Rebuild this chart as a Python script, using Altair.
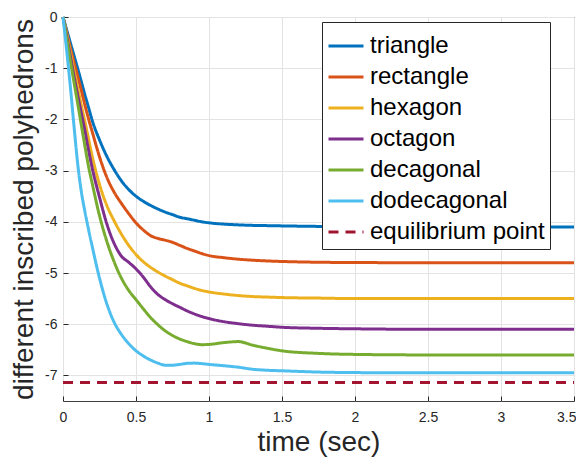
import altair as alt
import pandas as pd

time = [0, 0.025, 0.05, 0.075, 0.1, 0.125, 0.15, 0.175, 0.2, 0.25, 0.3, 0.35, 0.4, 0.45,
        0.5, 0.55, 0.6, 0.65, 0.7, 0.75, 0.8, 0.85, 0.9, 0.95, 1.0, 1.1, 1.2, 1.3, 1.4,
        1.5, 1.75, 2.0, 2.5, 3.0, 3.5]

triangle = [0, -0.25, -0.5, -0.75, -1.0, -1.26, -1.52, -1.77, -2.02, -2.4, -2.72, -2.98,
            -3.2, -3.37, -3.5, -3.6, -3.68, -3.75, -3.81, -3.86, -3.91, -3.94, -3.97, -4.0,
            -4.02, -4.045, -4.06, -4.07, -4.075, -4.08, -4.09, -4.095, -4.1, -4.1, -4.1]
rectangle = [0, -0.3, -0.6, -0.88, -1.15, -1.43, -1.72, -1.99, -2.24, -2.73, -3.13, -3.42,
             -3.64, -3.84, -4.02, -4.16, -4.27, -4.325, -4.36, -4.4, -4.46, -4.52, -4.57,
             -4.62, -4.66, -4.7, -4.73, -4.75, -4.765, -4.775, -4.79, -4.795, -4.8, -4.8, -4.8]
hexagon = [0, -0.33, -0.68, -1.04, -1.38, -1.72, -2.04, -2.38, -2.72, -3.27, -3.68, -3.98,
           -4.24, -4.46, -4.64, -4.78, -4.89, -4.98, -5.06, -5.13, -5.2, -5.25, -5.3, -5.34,
           -5.37, -5.41, -5.44, -5.46, -5.47, -5.48, -5.49, -5.5, -5.5, -5.5, -5.5]
octagon = [0, -0.37, -0.76, -1.15, -1.52, -1.87, -2.22, -2.6, -2.95, -3.52, -4.04, -4.42,
           -4.67, -4.79, -4.92, -5.08, -5.27, -5.42, -5.52, -5.6, -5.67, -5.74, -5.8, -5.85,
           -5.89, -5.95, -5.99, -6.02, -6.04, -6.06, -6.08, -6.09, -6.1, -6.1, -6.1]
decagonal = [0, -0.42, -0.85, -1.27, -1.68, -2.1, -2.52, -2.92, -3.25, -3.88, -4.38, -4.78,
             -5.1, -5.34, -5.52, -5.7, -5.87, -6.01, -6.13, -6.22, -6.29, -6.34, -6.38, -6.4,
             -6.395, -6.36, -6.34, -6.41, -6.47, -6.52, -6.57, -6.59, -6.6, -6.6, -6.6]
dodecagonal = [0, -0.65, -1.35, -2.12, -2.85, -3.4, -3.8, -4.15, -4.48, -5.1, -5.6, -5.96,
               -6.2, -6.38, -6.52, -6.62, -6.7, -6.76, -6.8, -6.8, -6.785, -6.765, -6.76,
               -6.77, -6.785, -6.81, -6.84, -6.88, -6.9, -6.91, -6.935, -6.945, -6.95, -6.95, -6.95]
equilibrium = -7.14
equilibrium_time = [0, 3.5]

names = ["triangle", "rectangle", "hexagon", "octagon", "decagonal", "dodecagonal",
         "equilibrium point"]
colors = ["#0072BD", "#D95319", "#EDB120", "#7E2F8E", "#77AC30", "#4DBEEE", "#A2142F"]
x_ticks = [0, 0.5, 1, 1.5, 2, 2.5, 3, 3.5]
y_ticks = [-7, -6, -5, -4, -3, -2, -1, 0]

rows = []
for name, vals in zip(names[:6], [triangle, rectangle, hexagon, octagon, decagonal, dodecagonal]):
    for t, v in zip(time, vals):
        rows.append({"series": name, "t": t, "v": v})
for t in equilibrium_time:
    rows.append({"series": names[6], "t": t, "v": equilibrium})
df = pd.DataFrame(rows)

W, H = 511, 384
FONT = "Liberation Sans"
INK = "#262626"

legend = alt.Legend(
    title=None, orient="none", legendX=259, legendY=5,
    symbolType="stroke", symbolSize=1225, symbolStrokeWidth=3,
    labelFontSize=24, labelFont=FONT, labelColor="black", labelLimit=400,
    labelOffset=5, padding=5, rowPadding=-6,
    strokeColor=INK, fillColor="white",
)

xscale = alt.Scale(domain=[0, 3.5], nice=False, zero=False)
yscale = alt.Scale(domain=[-7.5, 0], nice=False, zero=False)

lines = alt.Chart(df).mark_line(interpolate="monotone").encode(
    x=alt.X("t:Q", scale=xscale,
            axis=alt.Axis(orient="bottom", values=x_ticks, title="time (sec)",
                          labelExpr="datum.value + ''", grid=True, ticks=False,
                          domain=False, labelFontSize=14, labelPadding=9,
                          labelFlush=False,
                          labelAlign={"condition": {"test": "datum.value == 3.5",
                                                    "value": "right"},
                                      "value": "center"},
                          labelOffset={"condition": {"test": "datum.value == 3.5",
                                                     "value": 2},
                                       "value": 0},
                          titleFontSize=28, titlePadding=4)),
    y=alt.Y("v:Q", scale=yscale,
            axis=alt.Axis(orient="left", values=y_ticks,
                          title="different inscribed polyhedrons",
                          labelExpr="datum.value + ''", grid=True, ticks=False,
                          domain=False, labelFontSize=14, labelPadding=6,
                          titleFontSize=28, titlePadding=6)),
    color=alt.Color("series:N", scale=alt.Scale(domain=names, range=colors), legend=legend),
    strokeDash=alt.StrokeDash("series:N",
                              scale=alt.Scale(domain=names, range=[[1, 0]] * 6 + [[10, 7]]),
                              legend=legend),
    strokeWidth=alt.StrokeWidth("series:N",
                                scale=alt.Scale(domain=names, range=[3] * 6 + [1.8]),
                                legend=None),
)

ticks_layer = alt.Chart(df).mark_point(opacity=0).encode(
    x=alt.X("t:Q", scale=xscale,
            axis=alt.Axis(orient="top", offset=-H, values=x_ticks, labels=False,
                          grid=False, domain=False, ticks=True, tickSize=5,
                          tickColor=INK, title=None)),
    y=alt.Y("v:Q", scale=yscale,
            axis=alt.Axis(orient="right", offset=-W, values=y_ticks, labels=False,
                          grid=False, domain=False, ticks=True, tickSize=5,
                          tickColor=INK, title=None)),
)

chart = alt.layer(lines, ticks_layer).properties(
    width=W, height=H,
    autosize=alt.AutoSizeParams(type="none"),
    padding={"left": 55, "top": 9, "right": 2, "bottom": 64},
).configure_view(
    stroke="#404040", strokeWidth=1
).configure_axis(
    gridColor="#e3e3e3", gridWidth=1, gridOpacity=1,
    labelFont=FONT, titleFont=FONT, labelColor=INK, titleColor=INK,
    titleFontWeight="normal",
)

chart.save("out.html", embed_options={"renderer": "svg", "actions": False})
